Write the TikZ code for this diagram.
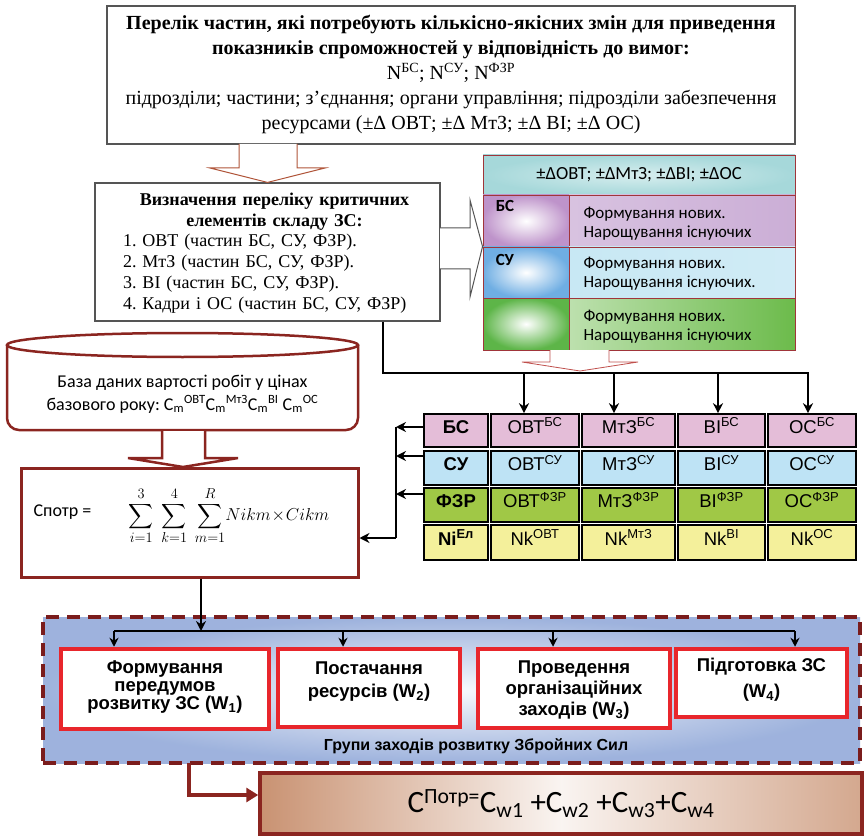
\documentclass[tikz,border=0pt]{standalone}
\usepackage{exscale}
\usepackage{fontspec}
\setmainfont{Liberation Serif}
\newfontfamily\fcal{Carlito}
\newfontfamily\fari{Liberation Sans}
\usetikzlibrary{arrows.meta}
\definecolor{dred}{HTML}{8B2520}
\definecolor{dashred}{HTML}{7A1C1C}
\definecolor{wred}{HTML}{E8262C}
\definecolor{gbord}{HTML}{555555}
\definecolor{arrA}{HTML}{B0553A}
\definecolor{arrR}{HTML}{C0504D}
\definecolor{tbord}{HTML}{A0353A}
\definecolor{gpink}{HTML}{E4BDD8}
\definecolor{gblue}{HTML}{BEE3F5}
\definecolor{ggreen}{HTML}{A0C846}
\definecolor{gyell}{HTML}{F4F09B}
\definecolor{teal1}{HTML}{A6D8DA}
\definecolor{purp1}{HTML}{BE93CA}
\definecolor{purp2}{HTML}{CBAED6}
\definecolor{blu1}{HTML}{6FAEE3}
\definecolor{blu2}{HTML}{C8E8F4}
\definecolor{grn1}{HTML}{5DB548}
\definecolor{grn2}{HTML}{6CBB4B}
\definecolor{cont1}{HTML}{93AAD9}
\definecolor{tan1}{HTML}{C99272}
\tikzset{
  graybox/.style={draw=gbord, line width=1.2pt, fill=white, inner sep=0pt},
  tcell/.style={draw=tbord, line width=0.9pt, inner sep=0pt},
  gcellst/.style={draw=black, line width=1.6pt, inner sep=0pt, text height=13pt, text depth=8pt,
    font=\fari\fontsize{18.5}{18.5}\selectfont},
  blk/.style={line width=2.6pt, -{Stealth[length=10pt,width=10pt]}},
  blkline/.style={line width=2.6pt},
  thinblk/.style={line width=2.2pt, -{Stealth[length=9pt,width=9pt]}},
  wbox/.style={draw=wred, line width=4.5pt, fill=white, inner sep=0pt},
  wtext/.style={anchor=north, align=center, font=\fari\bfseries\fontsize{18.5}{18}\selectfont},
  hollowA/.style={draw=arrA, line width=1pt, fill=white},
  hollowG/.style={draw=gbord, line width=1pt, fill=white},
  hollowR/.style={draw=arrR, line width=0.8pt, fill=white},
  hollowD/.style={draw=dred, line width=2.5pt, fill=white},
  ttext/.style={anchor=west, align=left, font=\fcal\fontsize{17}{19}\selectfont},
  tlabel/.style={anchor=north west, inner sep=0pt, font=\fcal\bfseries\fontsize{17}{17}\selectfont}
}
\newcommand\gcell[7]{\node[gcellst, fill=#6, minimum width={#4-#2-2}, minimum height={#5-#3}] (#1) at ({(#2+#4)/2},{(#3+#5)/2}) {#7};}
\begin{document}
\frenchspacing
\begin{tikzpicture}[x=1pt,y=-1pt]
\useasboundingbox (0,0) rectangle (865,837);
\fill[white] (0,0) rectangle (865,837);

% ---------- top box
\node[graybox, minimum width=688, minimum height=138, align=center,
  font=\fontsize{20}{25}\selectfont] (top) at (451,75)
 {{\bfseries Перелік частин, які потребують кількісно-якісних змін для приведення}\\
  {\bfseries показників спроможностей у відповідність до вимог:}\\
  N\textsuperscript{БС}; N\textsuperscript{СУ}; N\textsuperscript{ФЗР}\\
  підрозділи; частини; з’єднання; органи управління; підрозділи забезпечення\\
  ресурсами (±Δ ОВТ; ±Δ МтЗ; ±Δ ВІ; ±Δ ОС)};

% ---------- second box
\node[graybox, minimum width=345, minimum height=138] (def) at (267.5,252) {};
\node[text width=310, align=left, inner sep=0pt, font=\fontsize{18}{20.8}\selectfont] (deft) at (278,253)
 {\makebox[303pt][c]{\bfseries Визначення переліку критичних}\\
  \makebox[303pt][c]{\bfseries елементів складу ЗС:}\\
  1. ОВТ (частин БС, СУ, ФЗР).\\
  2. МтЗ (частин БС, СУ, ФЗР).\\
  3. ВІ (частин БС, СУ, ФЗР).\\
  4. Кадри і ОС (частин БС, СУ, ФЗР)};

% hollow arrow top -> def
\draw[hollowA] (239,144) -- (239,168) -- (210,168) -- (def.north) -- (325,168) -- (297,168) -- (297,144);

% ---------- top-right table
\node[tcell, minimum width=312, minimum height=40, inner color=white!55!teal1, outer color=teal1] (hdr) at (639,175)
 {\fcal\fontsize{18.5}{18.5}\selectfont ±ΔОВТ; ±ΔМтЗ; ±ΔВІ; ±ΔОС};
\node[tcell, minimum width=86, minimum height=52, inner color=white, outer color=purp1] (lbs) at (526,221) {};
\node[tcell, minimum width=226, minimum height=52, left color=purp2!75!white, right color=purp2] (rbs) at (682,221) {};
\node[tcell, minimum width=86, minimum height=51, inner color=white, outer color=blu1] (lsu) at (526,272.5) {};
\node[tcell, minimum width=226, minimum height=51, left color=blu2, right color=blu2!85!white] (rsu) at (682,272.5) {};
\node[tcell, minimum width=86, minimum height=52, inner color=white, outer color=grn1] (lgr) at (526,324) {};
\node[tcell, minimum width=226, minimum height=52, left color=grn2!45!white, right color=grn2] (rgr) at (682,324) {};
\node[tlabel] (lbst) at ([shift={(13,6)}]lbs.north west) {БС};
\node[tlabel] (lsut) at ([shift={(13,8)}]lsu.north west) {СУ};
\node[ttext] (tbs) at (580,224) {Формування нових.\\Нарощування існуючих};
\node[ttext] (tsu) at (580,274) {Формування нових.\\Нарощування існуючих.};
\node[ttext] (tgr) at (580,327) {Формування нових.\\Нарощування існуючих};

% hollow arrow def -> table
\draw[hollowG] (440,228) -- (470,228) -- (470,200) -- (lsu.north west) -- (470,297) -- (470,269) -- (440,269);

% hollow arrow under table
\draw[hollowR] (550,350) -- (550,362) -- (522,362) -- (580,371) -- (638,362) -- (609,362) -- (609,350);

% ---------- database cylinder
\draw[dred, line width=2.5pt, fill=white, rounded corners=12] (7,345) -- (7,430) -- (358,430) -- (358,345);
\draw[dred, line width=2.5pt, fill=white] (182.5,345) ellipse[x radius=175.5, y radius=12];
\node[align=center, font=\fcal\fontsize{18}{23}\selectfont] (db) at (182.5,394)
 {База даних вартості робіт у цінах\\
  базового року: C\textsubscript{m}\textsuperscript{ОВТ}C\textsubscript{m}\textsuperscript{МтЗ}C\textsubscript{m}\textsuperscript{ВІ} C\textsubscript{m}\textsuperscript{ОС}};

% ---------- formula box
\node[draw=dred, line width=3pt, fill=white, minimum width=337, minimum height=109, inner sep=0pt] (fbox) at (189.5,522.5) {};
\node[anchor=west, font=\fcal\fontsize{18}{18}\selectfont] (spotr) at (30,512) {Спотр =};
\node[font=\fontsize{19}{19}\selectfont] (sumf) at (229,516)
 {$\displaystyle\sum_{i=1}^{3}\;\sum_{k=1}^{4}\;\sum_{m=1}^{R}\! Nikm\!\times\! Cikm$};

% hollow arrow db -> fbox
\draw[hollowD] (162,431) -- (162,458) -- (128,458) -- (183,467) -- (238,458) -- (205,458) -- (205,431);

% ---------- grid table
\gcell{g11}{423}{414}{489}{447}{gpink}{\bfseries БС}
\gcell{g12}{490}{414}{580}{447}{gpink}{ОВТ\textsuperscript{БС}}
\gcell{g13}{581}{414}{676}{447}{gpink}{МтЗ\textsuperscript{БС}}
\gcell{g14}{677}{414}{766}{447}{gpink}{ВІ\textsuperscript{БС}}
\gcell{g15}{767}{414}{857}{447}{gpink}{ОС\textsuperscript{БС}}
\gcell{g21}{423}{451}{489}{485}{gblue}{\bfseries СУ}
\gcell{g22}{490}{451}{580}{485}{gblue}{ОВТ\textsuperscript{СУ}}
\gcell{g23}{581}{451}{676}{485}{gblue}{МтЗ\textsuperscript{СУ}}
\gcell{g24}{677}{451}{766}{485}{gblue}{ВІ\textsuperscript{СУ}}
\gcell{g25}{767}{451}{857}{485}{gblue}{ОС\textsuperscript{СУ}}
\gcell{g31}{423}{488}{489}{522}{ggreen}{\bfseries ФЗР}
\gcell{g32}{490}{488}{580}{522}{ggreen}{ОВТ\textsuperscript{ФЗР}}
\gcell{g33}{581}{488}{676}{522}{ggreen}{МтЗ\textsuperscript{ФЗР}}
\gcell{g34}{677}{488}{766}{522}{ggreen}{ВІ\textsuperscript{ФЗР}}
\gcell{g35}{767}{488}{857}{522}{ggreen}{ОС\textsuperscript{ФЗР}}
\gcell{g41}{423}{525}{489}{560}{gyell}{\bfseries Ni\textsuperscript{Ел}}
\gcell{g42}{490}{525}{580}{560}{gyell}{Nk\textsuperscript{ОВТ}}
\gcell{g43}{581}{525}{676}{560}{gyell}{Nk\textsuperscript{МтЗ}}
\gcell{g44}{677}{525}{766}{560}{gyell}{Nk\textsuperscript{ВІ}}
\gcell{g45}{767}{525}{857}{560}{gyell}{Nk\textsuperscript{ОС}}

% bus from def to grid
\coordinate (a1) at (524,373);
\coordinate (a2) at (614,373);
\coordinate (a3) at (718,373);
\coordinate (a4) at (808,373);
\draw[blk] ([xshift=115.5]def.south) |- (a4) -- (a4 |- g15.north);
\draw[blk] (a1) -- (a1 |- g12.north);
\draw[blk] (a2) -- (a2 |- g13.north);
\draw[blk] (a3) -- (a3 |- g14.north);

% bracket from grid to fbox
\coordinate (brk) at (396,538);
\draw[blkline] ([yshift=3.5]g11.west -| brk) -- (brk);
\draw[blk] ([yshift=3.5]g11.west) -- ([yshift=3.5]g11.west -| brk);
\draw[blk] ([yshift=12]g21.west) -- ([yshift=12]g21.west -| brk);
\draw[blk] ([yshift=11]g31.west) -- ([yshift=11]g31.west -| brk);
\draw[blk] (brk) -- ([yshift=-15.5]fbox.east);

% ---------- group container
\node[draw=dashred, line width=4pt, dash pattern=on 13pt off 8pt, inner color=white!93!cont1, outer color=cont1!90!white,
  minimum width=817, minimum height=146, inner sep=0pt] (grp) at (451.5,690) {};
\node[wbox, minimum width=208, minimum height=80] (w1) at (165,689) {};
\node[wbox, minimum width=182, minimum height=78] (w2) at (369,688) {};
\node[wbox, minimum width=192, minimum height=79] (w3) at (574,688.5) {};
\node[wbox, minimum width=171, minimum height=68] (w4) at (761.5,683) {};
\node[wtext] (w1t) at ([yshift=-10]w1.north) {Формування\\передумов\\розвитку ЗС (W\textsubscript{1})};
\node[wtext, font=\fari\bfseries\fontsize{18.5}{23}\selectfont] (w2t) at ([yshift=-11]w2.north) {Постачання\\ресурсів (W\textsubscript{2})};
\node[wtext, font=\fari\bfseries\fontsize{18.5}{21}\selectfont] (w3t) at ([yshift=-10]w3.north) {Проведення\\організаційних\\заходів (W\textsubscript{3})};
\node[wtext, font=\fari\bfseries\fontsize{18.5}{26}\selectfont] (w4t) at ([yshift=-8]w4.north) {Підготовка ЗС\\(W\textsubscript{4})};
\node[font=\fari\bfseries\fontsize{16}{16}\selectfont] (grpt) at (476,746) {Групи заходів розвитку Збройних Сил};

% branch from fbox to groups
\coordinate (br) at (201,631);
\coordinate (b1) at (114,631);
\coordinate (b2) at (343,631);
\coordinate (b3) at (553,631);
\coordinate (b4) at (795,631);
\draw[blk] (fbox.south -| br) -- (br);
\draw[line width=2.2pt] (b1) -- (b4);
\draw[thinblk] (b1) -- (b1 |- w1.north);
\draw[thinblk] (b2) -- (b2 |- w2.north);
\draw[thinblk] (b3) -- (b3 |- w3.north);
\draw[thinblk] (b4) -- (b4 |- w4.north);

% ---------- result box
\node[draw=dred, line width=3.5pt, left color=tan1, right color=tan1!80!white, middle color=white!90!tan1,
  minimum width=602, minimum height=61, inner sep=0pt] (res) at (561,803.5)
 {\fcal\fontsize{31}{31}\selectfont C\textsuperscript{Потр=}C\textsubscript{w1} +C\textsubscript{w2} +C\textsubscript{w3}+C\textsubscript{w4}};
\coordinate (rr) at (189,763);
\draw[dred, line width=4pt, -{Triangle[length=12pt,width=14pt]}] (rr) |- ([yshift=8.5]res.west);
\end{tikzpicture}
\end{document}
